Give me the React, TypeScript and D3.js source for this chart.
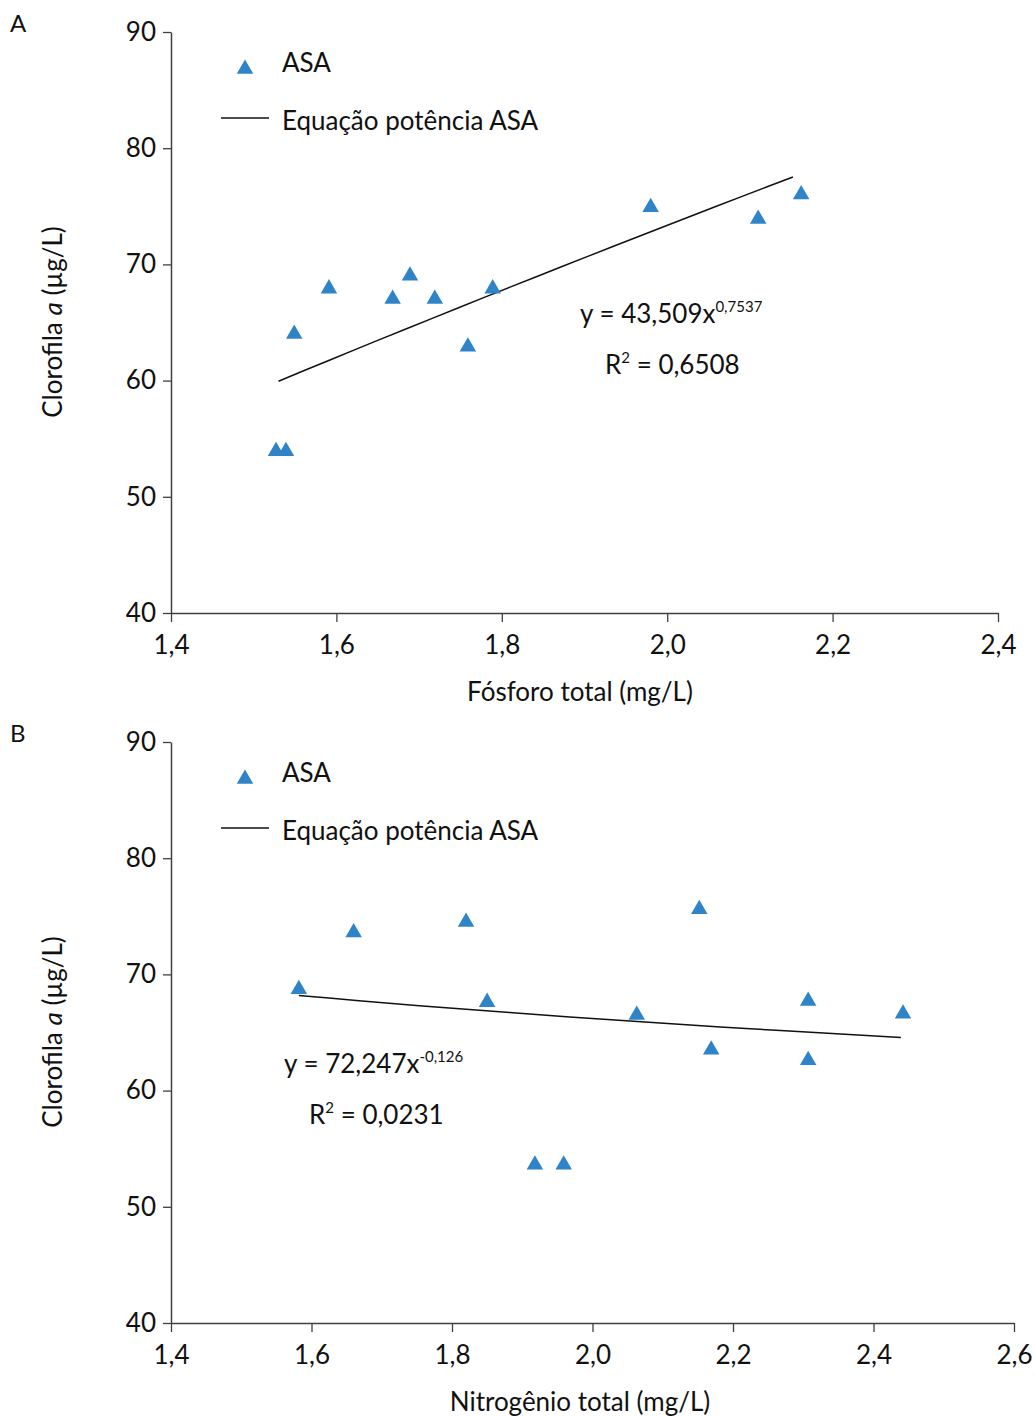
import React, { useRef, useEffect } from "react";
import * as d3 from "d3";

// Panel A: total phosphorus vs chlorophyll a
const phosphorus = [1.527, 1.539, 1.549, 1.591, 1.668, 1.689, 1.719, 1.759, 1.789, 1.98, 2.11, 2.162];
const chlorophyllA = [54, 54, 64.1, 68, 67.1, 69.1, 67.1, 63, 68, 75, 74, 76.1];
const trendRangeA = [1.53, 2.152];

// Panel B: total nitrogen vs chlorophyll a
const nitrogen = [1.582, 1.66, 1.82, 1.85, 1.918, 1.959, 2.063, 2.152, 2.169, 2.307, 2.307, 2.442];
const chlorophyllB = [68.8, 73.7, 74.6, 67.7, 53.7, 53.7, 66.6, 75.7, 63.6, 67.8, 62.7, 66.7];
const trendRangeB = [1.582, 2.439];

const xTicksA = [1.4, 1.6, 1.8, 2.0, 2.2, 2.4];
const xTicksB = [1.4, 1.6, 1.8, 2.0, 2.2, 2.4, 2.6];
const yTicks = [40, 50, 60, 70, 80, 90];

const FONT = "Lato, 'Open Sans', sans-serif";
const BLUE = "#2f84c7";
const AXIS = "#404040";
const FS = 26;

const fmt = (d) => d3.format(".1f")(d).replace(".", ",");

function drawPanel(svg, cfg) {
  const x = d3.scaleLinear().domain(cfg.xDomain).range([171, cfg.xRight]);
  const y = d3.scaleLinear().domain([40, 90]).range([cfg.yBottom, cfg.yBottom - 581]);
  const top = cfg.yBottom - 581;
  const g = svg.append("g");

  g.append("text").attr("x", 10).attr("y", top).attr("font-size", 24).text(cfg.letter);

  const yAxis = g
    .append("g")
    .attr("transform", "translate(171,0)")
    .call(d3.axisLeft(y).tickValues(yTicks).tickSize(8).tickSizeOuter(0).tickPadding(7).tickFormat((d) => d));
  const xAxis = g
    .append("g")
    .attr("transform", `translate(0,${cfg.yBottom})`)
    .call(d3.axisBottom(x).tickValues(cfg.xTicks).tickSize(9).tickSizeOuter(0).tickPadding(14).tickFormat(fmt));

  [yAxis, xAxis].forEach((a) => {
    a.select(".domain").attr("stroke", AXIS).attr("stroke-width", 1.5);
    a.selectAll(".tick line").attr("stroke", AXIS).attr("stroke-width", 1.3);
    a.selectAll(".tick text").attr("font-size", FS).attr("font-family", FONT).attr("fill", "#111");
  });

  // axis titles
  g.append("text")
    .attr("x", 580)
    .attr("y", cfg.yBottom + 88)
    .attr("text-anchor", "middle")
    .attr("font-size", FS)
    .text(cfg.xTitle);

  const yt = g
    .append("text")
    .attr("transform", `translate(62,${top + 290}) rotate(-90)`)
    .attr("text-anchor", "middle")
    .attr("font-size", FS);
  yt.append("tspan").text("Clorofila ");
  yt.append("tspan").attr("font-style", "italic").text("a");
  yt.append("tspan").text(" (µg/L)");

  const tri = d3.symbol().type(d3.symbolTriangle).size(118);

  // trend line from the fitted power equation
  const [x0, x1] = cfg.trend;
  const lx = d3.range(0, 21).map((i) => x0 + ((x1 - x0) * i) / 20);
  g.append("path")
    .attr("d", d3.line().x((d) => x(d)).y((d) => y(cfg.a * Math.pow(d, cfg.b)))(lx))
    .attr("fill", "none")
    .attr("stroke", "#111")
    .attr("stroke-width", 1.5);

  g.selectAll(".pt")
    .data(cfg.xs.map((v, i) => [v, cfg.ys[i]]))
    .join("path")
    .attr("transform", (d) => `translate(${x(d[0])},${y(d[1]) + 1})`)
    .attr("d", tri)
    .attr("fill", BLUE);

  // legend
  g.append("path").attr("transform", `translate(245,${top + 37})`).attr("d", tri).attr("fill", BLUE);
  g.append("text").attr("x", 282).attr("y", top + 40).attr("font-size", FS).text("ASA");
  g.append("line")
    .attr("x1", 221)
    .attr("x2", 269)
    .attr("y1", top + 86)
    .attr("y2", top + 86)
    .attr("stroke", "#111")
    .attr("stroke-width", 1.3);
  g.append("text").attr("x", 282).attr("y", top + 98).attr("font-size", FS).text("Equação potência ASA");

  // equation
  const eq = g.append("text").attr("x", cfg.eqX).attr("y", cfg.eqY).attr("font-size", FS);
  eq.append("tspan").text(`y = ${cfg.aLabel}x`);
  eq.append("tspan").attr("font-size", 15).attr("dy", -11).text(cfg.bLabel);
  const r2 = g.append("text").attr("x", cfg.eqX + 25).attr("y", cfg.eqY + 51).attr("font-size", FS);
  r2.append("tspan").text("R");
  r2.append("tspan").attr("font-size", 15).attr("dy", -11).text("2");
  r2.append("tspan").attr("dy", 11).text(` = ${cfg.r2}`);
}

export default function App() {
  const svgRef = useRef(null);

  useEffect(() => {
    const svg = d3.select(svgRef.current);
    svg.selectAll("*").remove();

    drawPanel(svg, {
      letter: "A",
      xDomain: [1.4, 2.4],
      xRight: 998,
      yBottom: 613,
      xTicks: xTicksA,
      xs: phosphorus,
      ys: chlorophyllA,
      trend: trendRangeA,
      xTitle: "Fósforo total (mg/L)",
      a: 43.509,
      b: 0.7537,
      aLabel: "43,509",
      bLabel: "0,7537",
      r2: "0,6508",
      eqX: 580,
      eqY: 323,
    });

    drawPanel(svg, {
      letter: "B",
      xDomain: [1.4, 2.6],
      xRight: 1014,
      yBottom: 1323,
      xTicks: xTicksB,
      xs: nitrogen,
      ys: chlorophyllB,
      trend: trendRangeB,
      xTitle: "Nitrogênio total (mg/L)",
      a: 72.247,
      b: -0.126,
      aLabel: "72,247",
      bLabel: "-0,126",
      r2: "0,0231",
      eqX: 284,
      eqY: 1073,
    });
  }, []);

  return (
    <svg
      ref={svgRef}
      width={1035}
      height={1416}
      style={{ position: "absolute", left: 0, top: 0, background: "#fff", fontFamily: FONT }}
      fill="#111"
    />
  );
}
